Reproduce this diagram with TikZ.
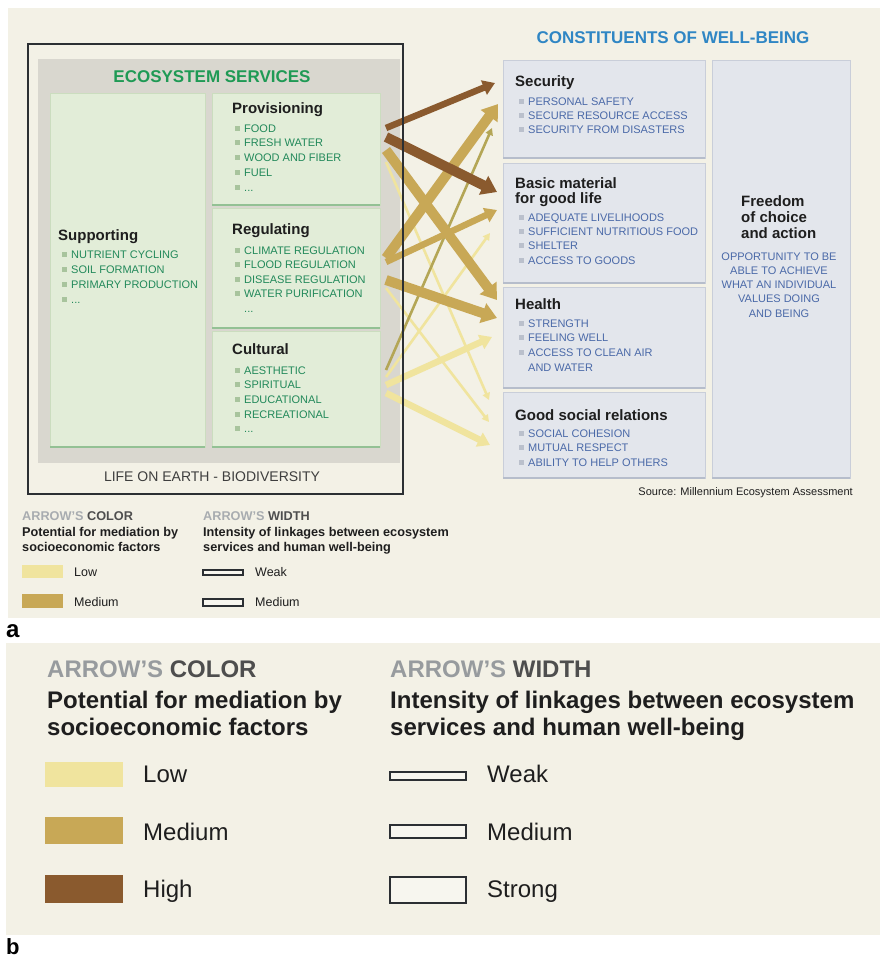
\documentclass[tikz,border=0pt]{standalone}
\usepackage{fontspec}
\setmainfont{Liberation Sans}
\usetikzlibrary{arrows.meta}

\definecolor{cream}{HTML}{F3F1E6}
\definecolor{panelgray}{HTML}{D9D7CF}
\definecolor{greenbox}{HTML}{E2EDD8}
\definecolor{greenedge}{HTML}{CBDDBF}
\definecolor{greenline}{HTML}{93C194}
\definecolor{greentxt}{HTML}{22895A}
\definecolor{greenttl}{HTML}{1F9A55}
\definecolor{gbul}{HTML}{A8C49D}
\definecolor{bluebox}{HTML}{E3E6EC}
\definecolor{blueedge}{HTML}{C9CED9}
\definecolor{blueline}{HTML}{B6BDCB}
\definecolor{bluetxt}{HTML}{4A69A8}
\definecolor{bluettl}{HTML}{2F86C4}
\definecolor{bbul}{HTML}{BAC0CC}
\definecolor{darktxt}{HTML}{1E1E1E}
\definecolor{lowc}{HTML}{F0E49E}
\definecolor{medc}{HTML}{C8A856}
\definecolor{highc}{HTML}{8A5A2E}
\definecolor{olivec}{HTML}{B4A656}
\definecolor{lgraytxt}{HTML}{A8ACB0}
\definecolor{mgraytxt}{HTML}{4E4E4E}
\definecolor{framec}{HTML}{2B2F33}
\definecolor{barfill}{HTML}{F7F6EF}

\tikzset{
  gpanel/.style={fill=panelgray, anchor=north west, inner sep=0, outer sep=0},
  gbox/.style={fill=greenbox, draw=greenedge, line width=0.8pt, anchor=north west, inner sep=0, outer sep=0},
  bbox/.style={fill=bluebox, draw=blueedge, line width=0.8pt, anchor=north west, inner sep=0, outer sep=0},
  gitem/.style={font=\fontsize{11}{13}\selectfont, text=greentxt, anchor=base west, inner sep=0},
  bitem/.style={font=\fontsize{11}{13}\selectfont, text=bluetxt, anchor=base west, inner sep=0},
  ttl/.style={font=\bfseries\fontsize{15}{18}\selectfont, text=darktxt, anchor=base west, inner sep=0},
  legsmall/.style={font=\bfseries\fontsize{12.7}{15}\selectfont, text=darktxt, anchor=base west, inner sep=0},
  legsmalllbl/.style={font=\fontsize{12.5}{15}\selectfont, text=darktxt, anchor=base west, inner sep=0},
  legbig/.style={font=\bfseries\fontsize{24}{28}\selectfont, text=darktxt, anchor=base west, inner sep=0},
  legbiglbl/.style={font=\fontsize{24}{28}\selectfont, text=darktxt, anchor=base west, inner sep=0},
  wstrong/.style={line width=10pt, -{Triangle[length=15pt,width=20pt]}},
  wmedium/.style={line width=6.5pt, -{Triangle[length=12pt,width=15pt]}},
  wweak/.style={line width=2.6pt, -{Triangle[length=7pt,width=7.5pt]}},
  wbar/.style={draw=framec, fill=barfill},
}

% trailing "more items" mark of each list
\newcommand\moredots{...}

% bullet list: name prefix, text x, first centre y, step, colour kind (g/b), items
\newcommand\bulletlist[6]{%
  \foreach \lbl [count=\i] in {#6}{%
    \pgfmathsetmacro\yy{#3+(\i-1)*#4}%
    \fill[#5bul] ({#2-9},{\yy-2.5}) rectangle ({#2-4},{\yy+2.5});
    \node[#5item] (#1-\i) at (#2,{\yy+4}) {\lbl};
  }}

\begin{document}
\begin{tikzpicture}[x=1pt,y=-1pt]
\useasboundingbox (0,0) rectangle (880,959);
\fill[white] (0,0) rectangle (880,959);
\fill[cream] (8,8) rectangle (880,618);
\fill[cream] (6,643) rectangle (880,935);

% ---------------- ecosystem services ----------------
\node[gpanel, minimum width=362pt, minimum height=404pt] (es) at (38,59) {};
\node[font=\bfseries\fontsize{17}{20}\selectfont, text=greenttl, inner sep=0] (es-title) at (212,77) {ECOSYSTEM SERVICES};

\node[gbox, minimum width=155pt, minimum height=354pt] (supp) at (50,93) {};
\node[gbox, minimum width=168pt, minimum height=112pt] (prov) at (212,93) {};
\node[gbox, minimum width=168pt, minimum height=120pt] (reg) at (212,208) {};
\node[gbox, minimum width=168pt, minimum height=116pt] (cult) at (212,331) {};
\foreach \b in {supp,prov,reg,cult}
  \draw[greenline, line width=2pt] (\b.south west) -- (\b.south east);

\node[ttl] (supp-t) at (58,240) {Supporting};
\bulletlist{supp}{71}{254}{15}{g}{NUTRIENT CYCLING,SOIL FORMATION,PRIMARY PRODUCTION,\moredots}

\node[ttl] (prov-t) at (232,113) {Provisioning};
\bulletlist{prov}{244}{128}{14.8}{g}{FOOD,FRESH WATER,WOOD AND FIBER,FUEL,\moredots}

\node[ttl] (reg-t) at (232,234) {Regulating};
\bulletlist{reg}{244}{250}{14.5}{g}{CLIMATE REGULATION,FLOOD REGULATION,DISEASE REGULATION,WATER PURIFICATION}
\node[gitem] (reg-more) at (244,312) {\moredots};

\node[ttl] (cult-t) at (232,354) {Cultural};
\bulletlist{cult}{244}{370}{14.7}{g}{AESTHETIC,SPIRITUAL,EDUCATIONAL,RECREATIONAL,\moredots}

\node[font=\fontsize{14}{16}\selectfont, text=mgraytxt!80!black, inner sep=0] (life) at (212,477) {LIFE ON EARTH - BIODIVERSITY};

% ---------------- constituents of well-being ----------------
\node[font=\bfseries\fontsize{17}{20}\selectfont, text=bluettl, inner sep=0] (cw-title) at (673,38) {CONSTITUENTS OF WELL-BEING};

\node[bbox, minimum width=202pt, minimum height=98pt] (sec) at (503,60) {};
\node[bbox, minimum width=202pt, minimum height=120pt] (basic) at (503,163) {};
\node[bbox, minimum width=202pt, minimum height=101pt] (health) at (503,287) {};
\node[bbox, minimum width=202pt, minimum height=86pt] (social) at (503,392) {};
\node[bbox, minimum width=138pt, minimum height=418pt] (free) at (712,60) {};
\foreach \b in {sec,basic,health,social,free}
  \draw[blueline, line width=2pt] (\b.south west) -- (\b.south east);

\node[ttl] (sec-t) at (515,86) {Security};
\bulletlist{sec}{528}{101}{14.3}{b}{PERSONAL SAFETY,SECURE RESOURCE ACCESS,SECURITY FROM DISASTERS}

\node[ttl] (basic-t1) at (515,188) {Basic material};
\node[ttl] (basic-t2) at (515,203.5) {for good life};
\bulletlist{basic}{528}{217}{14.4}{b}{ADEQUATE LIVELIHOODS,SUFFICIENT NUTRITIOUS FOOD,SHELTER,ACCESS TO GOODS}

\node[ttl] (health-t) at (515,309) {Health};
\bulletlist{health}{528}{323}{14.5}{b}{STRENGTH,FEELING WELL,ACCESS TO CLEAN AIR}
\node[bitem] (health-4) at (528,371) {AND WATER};

\node[ttl] (social-t) at (515,420) {Good social relations};
\bulletlist{social}{528}{433}{14.5}{b}{SOCIAL COHESION,MUTUAL RESPECT,ABILITY TO HELP OTHERS}

\node[ttl] (free-t1) at (741,206) {Freedom};
\node[ttl] (free-t2) at (741,222) {of choice};
\node[ttl] (free-t3) at (741,238) {and action};
\foreach \lbl [count=\i] in {OPPORTUNITY TO BE,ABLE TO ACHIEVE,WHAT AN INDIVIDUAL,VALUES DOING,AND BEING}
  \node[bitem, anchor=base] (free-\i) at (779,{256+(\i-1)*14.3+4}) {\lbl};

\node[font=\fontsize{11}{13}\selectfont, text=darktxt, anchor=base east, inner sep=0] (source) at (853,495) {Source: Millennium Ecosystem Assessment};

% ---------------- linkage arrows ----------------
% start points on the service boxes
\coordinate (p1) at (386,128);
\coordinate (p2) at (386,137);
\coordinate (p3) at (386,150);
\coordinate (p4) at (386,162);
\coordinate (r1) at (386,258);
\coordinate (r2) at (386,262);
\coordinate (r3) at (386,280);
\coordinate (r4) at (386,288);
\coordinate (c1) at (386,370);
\coordinate (c2) at (386,377);
\coordinate (c3) at (386,385);
\coordinate (c4) at (386,393);
% arrival points on the well-being boxes
\coordinate (s1) at (495,83);
\coordinate (s2) at (498,104);
\coordinate (s3) at (492,128);
\coordinate (b1) at (497,192);
\coordinate (b2) at (497,210);
\coordinate (b3) at (490,233);
\coordinate (h1) at (497,300);
\coordinate (h2) at (497,318);
\coordinate (h3) at (492,337);
\coordinate (g1) at (489,400);
\coordinate (g2) at (489,422);
\coordinate (g3) at (490,445);

% low mediation
\draw[wweak, draw=lowc, fill=lowc] (p4) -- (g1);
\draw[wweak, draw=lowc, fill=lowc] (r4) -- (g2);
\draw[wweak, draw=lowc, fill=lowc] (c2) -- (b3);
\draw[wmedium, draw=lowc, fill=lowc] (c3) -- (h3);
\draw[wmedium, draw=lowc, fill=lowc] (c4) -- (g3);
\draw[wweak, draw=olivec, fill=olivec] (c1) -- (s3);
% medium mediation
\draw[wstrong, draw=medc, fill=medc] (r3) -- (h2);
\draw[wmedium, draw=medc, fill=medc] (r2) -- (b2);
\draw[wstrong, draw=medc, fill=medc] (p3) -- (h1);
\draw[wstrong, draw=medc, fill=medc] (r1) -- (s2);
% high mediation
\draw[wstrong, draw=highc, fill=highc] (p2) -- (b1);
\draw[wmedium, draw=highc, fill=highc] (p1) -- (s1);

% life on earth frame
\node[draw=framec, line width=1.5pt, anchor=north west, inner sep=0, minimum width=375pt, minimum height=450pt] (frame) at (27,43) {};

% ---------------- legend (small) ----------------
\node[legsmall] (la-col) at (22,520) {\textcolor{lgraytxt}{ARROW'S} \textcolor{mgraytxt}{COLOR}};
\node[legsmall] (la-col1) at (22,536.5) {Potential for mediation by};
\node[legsmall] (la-col2) at (22,551.5) {socioeconomic factors};
\fill[lowc] (22,565) rectangle (63,578);
\fill[medc] (22,594) rectangle (63,608);
\node[legsmalllbl] (la-low) at (74,576) {Low};
\node[legsmalllbl] (la-med) at (74,606) {Medium};

\node[legsmall] (la-wid) at (203,520) {\textcolor{lgraytxt}{ARROW'S} \textcolor{mgraytxt}{WIDTH}};
\node[legsmall] (la-wid1) at (203,536.5) {Intensity of linkages between ecosystem};
\node[legsmall] (la-wid2) at (203,551.5) {services and human well-being};
\draw[wbar, line width=1.2pt] (203,570) rectangle (243,575);
\draw[wbar, line width=1.2pt] (203,599) rectangle (243,606);
\node[legsmalllbl] (la-weak) at (255,576) {Weak};
\node[legsmalllbl] (la-medw) at (255,606) {Medium};

\node[font=\bfseries\fontsize{24}{28}\selectfont, anchor=base west, inner sep=0] (tag-a) at (6,637) {a};

% ---------------- legend (large) ----------------
\node[legbig] (lb-col) at (47,677) {\textcolor{lgraytxt!90!black}{ARROW'S} \textcolor{mgraytxt}{COLOR}};
\node[legbig] (lb-col1) at (47,708) {Potential for mediation by};
\node[legbig] (lb-col2) at (47,735) {socioeconomic factors};
\fill[lowc] (45,762) rectangle (123,787);
\fill[medc] (45,817) rectangle (123,844);
\fill[highc] (45,875) rectangle (123,903);
\node[legbiglbl] (lb-low) at (143,782) {Low};
\node[legbiglbl] (lb-med) at (143,840) {Medium};
\node[legbiglbl] (lb-high) at (143,897) {High};

\node[legbig] (lb-wid) at (390,677) {\textcolor{lgraytxt!90!black}{ARROW'S} \textcolor{mgraytxt}{WIDTH}};
\node[legbig] (lb-wid1) at (390,708) {Intensity of linkages between ecosystem};
\node[legbig] (lb-wid2) at (390,735) {services and human well-being};
\draw[wbar, line width=2.2pt] (390,772) rectangle (466,780);
\draw[wbar, line width=2.2pt] (390,825) rectangle (466,838);
\draw[wbar, line width=2.2pt] (390,877) rectangle (466,903);
\node[legbiglbl] (lb-weak) at (487,782) {Weak};
\node[legbiglbl] (lb-medw) at (487,840) {Medium};
\node[legbiglbl] (lb-strong) at (487,897) {Strong};

\node[font=\bfseries\fontsize{22}{26}\selectfont, anchor=base west, inner sep=0] (tag-b) at (6,954) {b};
\end{tikzpicture}
\end{document}
